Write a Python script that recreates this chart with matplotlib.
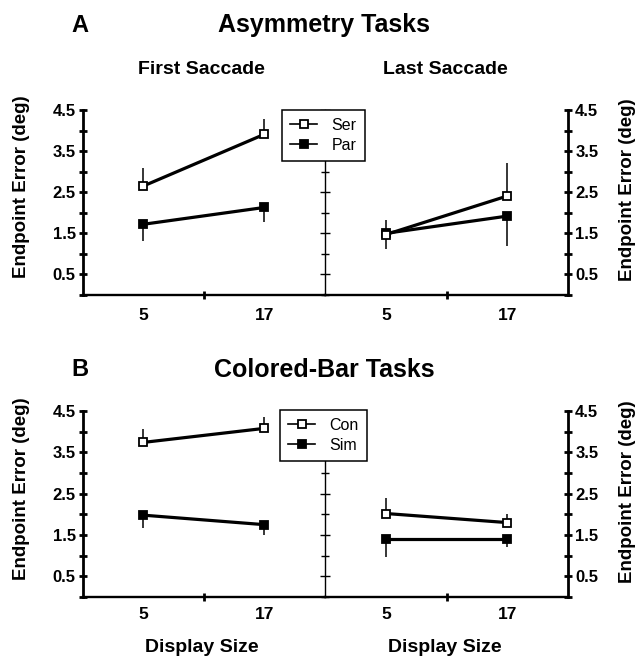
import matplotlib.pyplot as plt

plt.rcParams["font.family"] = ["Liberation Sans", "DejaVu Sans"]

# --- Data ------------------------------------------------------------------
DISPLAY_SIZES = [5, 17]
X_TICK_LABELS = ["5", "17"]
Y_TICKS = [0.5, 1.5, 2.5, 3.5, 4.5]
Y_MINOR_TICKS = [0, 1, 2, 3, 4]

# A: asymmetry tasks (open = Ser, filled = Par); errors are one-sided
ASYM_FIRST_SER = [2.65, 3.91]
ASYM_FIRST_SER_ERR = [0.43, 0.37]
ASYM_FIRST_PAR = [1.72, 2.13]
ASYM_FIRST_PAR_ERR = [0.41, 0.36]
ASYM_LAST_SER = [1.47, 2.41]
ASYM_LAST_SER_ERR = [0.36, 0.79]
ASYM_LAST_PAR = [1.50, 1.92]
ASYM_LAST_PAR_ERR = [0.37, 0.74]

# B: colored-bar tasks (open = Con, filled = Sim)
COLOR_FIRST_CON = [3.74, 4.08]
COLOR_FIRST_CON_ERR = [0.32, 0.28]
COLOR_FIRST_SIM = [1.98, 1.75]
COLOR_FIRST_SIM_ERR = [0.32, 0.25]
COLOR_LAST_CON = [2.02, 1.80]
COLOR_LAST_CON_ERR = [0.38, 0.22]
COLOR_LAST_SIM = [1.40, 1.40]
COLOR_LAST_SIM_ERR = [0.44, 0.18]

# --- Layout (pixels of the 636x659 output) ---------------------------------
FIG_W, FIG_H = 636, 659
X_LEFT, X_MID, X_RIGHT = 82.7, 325.0, 568.3
YLABEL = "Endpoint Error (deg)"
TICK_FONT = dict(size=12, weight="bold")


def fx(x):
    return x / FIG_W


def fy(y):
    return 1 - y / FIG_H


def ftext(fig, x, y, s, **kw):
    kw.setdefault("ha", "center")
    kw.setdefault("va", "center")
    fig.text(fx(x), fy(y), s, **kw)


def plot_series(ax, y, err, filled, label):
    # open symbols get the upper error bar, filled ones the lower
    zeros = [0] * len(err)
    yerr = [zeros, err] if not filled else [err, zeros]
    ax.errorbar(DISPLAY_SIZES, y, yerr=yerr, fmt="none", ecolor="black",
                elinewidth=1.1, capsize=0, zorder=2)
    line, = ax.plot(DISPLAY_SIZES, y, color="black", lw=2.3, marker="s",
                    ms=5.5 if not filled else 6.2,
                    mfc="black" if filled else "white", mec="black", mew=1.3,
                    label=label, zorder=3 if filled else 4)
    return line


def style_ticklabels(ax, axis, size):
    labels = ax.get_xticklabels() if axis == "x" else ax.get_yticklabels()
    for t in labels:
        t.set_fontsize(size)
        t.set_fontweight("bold")


def style_panel(ax, left_lw, tick_lw, xpad):
    ax.set_xlim(-1, 23)
    ax.set_ylim(0, 4.5)
    ax.spines["top"].set_visible(False)
    ax.spines["right"].set_visible(False)
    ax.spines["left"].set_linewidth(left_lw)
    ax.spines["bottom"].set_linewidth(1.7)
    ax.set_xticks(DISPLAY_SIZES, X_TICK_LABELS)
    ax.set_xticks([11], minor=True)
    ax.tick_params(axis="x", which="major", length=0, pad=xpad)
    ax.tick_params(axis="x", which="minor", direction="inout", length=6, width=2)
    ax.set_yticks(Y_TICKS)
    ax.set_yticks(Y_MINOR_TICKS, minor=True)
    ax.tick_params(axis="y", which="both", direction="inout", length=6,
                   width=tick_lw, pad=2)
    style_ticklabels(ax, "x", 12.5)
    style_ticklabels(ax, "y", 12)
    ax.patch.set_visible(False)


def draw_row(fig, y_top, y_bot, left_sets, right_sets, labels, xpad, legend_xy):
    h = (y_bot - y_top) / FIG_H
    ax_l = fig.add_axes([fx(X_LEFT), fy(y_bot), (X_MID - X_LEFT) / FIG_W, h])
    ax_r = fig.add_axes([fx(X_MID), fy(y_bot), (X_RIGHT - X_MID) / FIG_W, h])

    style_panel(ax_l, 2.0, 2.0, xpad)
    style_panel(ax_r, 1.0, 1.0, xpad)
    ax_r.tick_params(axis="y", labelleft=False, length=7)

    for (y, err), filled, lab in zip(left_sets, (False, True), labels):
        plot_series(ax_l, y, err, filled, lab)
    handles = []
    for (y, err), filled, lab in zip(right_sets, (False, True), labels):
        handles.append(plot_series(ax_r, y, err, filled, lab))

    # thick right-hand axis with its own labels
    twin = ax_r.twinx()
    twin.set_ylim(0, 4.5)
    for side in ("top", "bottom", "left"):
        twin.spines[side].set_visible(False)
    twin.spines["right"].set_linewidth(2.0)
    twin.set_yticks(Y_TICKS)
    twin.set_yticks(Y_MINOR_TICKS, minor=True)
    twin.tick_params(axis="y", which="both", direction="inout", length=6,
                     width=2.0, pad=2)
    style_ticklabels(twin, "y", 12)

    leg = twin.legend(handles, labels, loc="upper left",
                      bbox_to_anchor=(fx(legend_xy[0]), fy(legend_xy[1])),
                      bbox_transform=fig.transFigure, fancybox=False,
                      framealpha=1, edgecolor="black", fontsize=11.5,
                      handlelength=1.7, handletextpad=0.9, borderpad=0.5,
                      labelspacing=0.3, borderaxespad=0)
    leg.get_frame().set_linewidth(1.1)
    for ln in leg.get_lines():
        ln.set_linewidth(1.2)


def main():
    fig = plt.figure(figsize=(FIG_W / 100, FIG_H / 100), dpi=100)
    bold = dict(fontweight="bold")

    # --- A
    ftext(fig, 80, 25, "A", fontsize=17, **bold)
    ftext(fig, 324, 25, "Asymmetry Tasks", fontsize=18, **bold)
    ftext(fig, 201, 69, "First Saccade", fontsize=14, **bold)
    ftext(fig, 445, 69, "Last Saccade", fontsize=14, **bold)
    draw_row(fig, 110, 295,
             [(ASYM_FIRST_SER, ASYM_FIRST_SER_ERR), (ASYM_FIRST_PAR, ASYM_FIRST_PAR_ERR)],
             [(ASYM_LAST_SER, ASYM_LAST_SER_ERR), (ASYM_LAST_PAR, ASYM_LAST_PAR_ERR)],
             ["Ser", "Par"], xpad=9.5, legend_xy=(282, 110))
    ftext(fig, 22, 187, YLABEL, rotation=90, fontsize=13.5, **bold)
    ftext(fig, 628, 190, YLABEL, rotation=90, fontsize=13.5, **bold)

    # --- B
    ftext(fig, 80, 370, "B", fontsize=17, **bold)
    ftext(fig, 324, 370, "Colored-Bar Tasks", fontsize=18, **bold)
    draw_row(fig, 411, 597,
             [(COLOR_FIRST_CON, COLOR_FIRST_CON_ERR), (COLOR_FIRST_SIM, COLOR_FIRST_SIM_ERR)],
             [(COLOR_LAST_CON, COLOR_LAST_CON_ERR), (COLOR_LAST_SIM, COLOR_LAST_SIM_ERR)],
             ["Con", "Sim"], xpad=7.5, legend_xy=(280, 410))
    ftext(fig, 22, 489, YLABEL, rotation=90, fontsize=13.5, **bold)
    ftext(fig, 627, 492, YLABEL, rotation=90, fontsize=13.5, **bold)

    ftext(fig, 202, 647, "Display Size", fontsize=14, **bold)
    ftext(fig, 445, 647, "Display Size", fontsize=14, **bold)

    fig.savefig("out.png", dpi=100)


if __name__ == "__main__":
    main()
